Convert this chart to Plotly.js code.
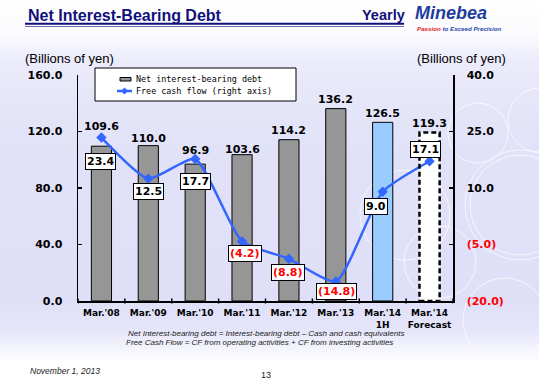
<!DOCTYPE html>
<html><head><meta charset="utf-8">
<script src="https://cdn.plot.ly/plotly-3.0.1.min.js"></script>
<style>
html,body{margin:0;padding:0;}
body{width:539px;height:380px;overflow:hidden;background:linear-gradient(to bottom,#ffffff 0px,#fbfbfe 36px,#ebebfb 60px,#e1e1f8 150px,#dfdff8 300px,#e5e5fa 330px,#ffffff 362px,#ffffff 380px);}
#chart{width:539px;height:380px;}
</style></head><body><div id="chart"></div>
<script>
// ---- data ----
const categories = ["Mar.'08","Mar.'09","Mar.'10","Mar.'11","Mar.'12","Mar.'13","Mar.'14<br>1H","Mar.'14<br>Forecast"];
const debt = [109.6,110.0,96.9,103.6,114.2,136.2,126.5,119.3];
const fcf = [23.4,12.5,17.7,-4.2,-8.8,-14.8,9.0,17.1];
const leftTicks = [0,40,80,120,160];
const rightTicks = [-20,-5,10,25,40];
const debtName = "Net interest-bearing debt";
const fcfName = "Free cash flow (right axis)";

// ---- layout helpers ----
const L=78,R=453,T=75,B=301;
const px = x => (x-L)/(R-L);
const py = y => (B-y)/(B-T);
const fmt = v => v<0 ? "("+Math.abs(v).toFixed(1)+")" : v.toFixed(1);
const RED = "#ff0000";
const barShift = [20,7,14,5,9,9,9,9];
const lblShift = [[-1,-24],[0,-13],[0,-22],[3,-12.5],[-1,-14],[1,-10],[-7,-15],[-4,12]];

const barColors = debt.map((v,i)=> i===6 ? "#99ccff" : (i===7 ? "#ffffff" : "#969696"));
const barLineW = debt.map((v,i)=> i===7 ? 0 : 1);
const idx = categories.map((c,i)=>i);

const traces = [
  {type:"bar", name:debtName, x:idx, y:debt, width:0.43,
   marker:{color:barColors, line:{color:"#000", width:barLineW}}, hoverinfo:"skip"},
  {type:"scatter", mode:"lines+markers", name:fcfName, x:idx, y:fcf, yaxis:"y2",
   line:{color:"#3366ff", width:2.5, shape:"spline", smoothing:0.55},
   marker:{symbol:"diamond", size:8, color:"#3366ff"}, hoverinfo:"skip"}
];

const ann = [];
const tickFont = {family:"DejaVu Sans", size:11, color:"#000", weight:"bold"};
debt.forEach((v,i)=>ann.push({x:i, y:v, xref:"x", yref:"y", text:v.toFixed(1), showarrow:false,
  yanchor:"middle", yshift:barShift[i], font:{family:"DejaVu Sans", size:11, color:"#000", weight:"bold"}}));
fcf.forEach((v,i)=>ann.push({x:i, y:v, xref:"x", yref:"y2", text:fmt(v), showarrow:false,
  xshift:lblShift[i][0], yshift:lblShift[i][1], bgcolor:"#ffffff", bordercolor:"#000", borderwidth:1, borderpad:1,
  font:{family:"DejaVu Sans", size:11, color:v<0?RED:"#000", weight:"bold"}}));

function txt(x,y,text,font,xanchor){ ann.push({xref:"paper", yref:"paper", x:px(x), y:py(y), text:text, showarrow:false,
  xanchor:xanchor||"left", yanchor:"middle", font:font}); }

txt(26,16,"Net Interest-Bearing Debt",{family:"Liberation Sans", size:16, color:"#10107a", weight:"bold"});
txt(360,15,"Yearly",{family:"Liberation Sans", size:14.5, color:"#10107a", weight:"bold"});
txt(413,12.6,"Minebea",{family:"Liberation Sans", size:18, color:"#1f3d9e", weight:"bold", style:"italic"});
txt(415,28.4,"<span style='color:#e02020'>Passion</span> to Exceed Precision",{family:"Liberation Sans", size:6.2, color:"#2a4aa8", weight:"bold", style:"italic"});
txt(23,59,"(Billions of yen)",{family:"Liberation Sans", size:13, color:"#000"});
txt(415,59,"(Billions of yen)",{family:"Liberation Sans", size:13, color:"#000"});
txt(134,79,debtName,{family:"DejaVu Sans Mono", size:8.4, color:"#000"});
txt(134,91,fcfName,{family:"DejaVu Sans Mono", size:8.4, color:"#000"});
txt(266,333,"Net Interest-bearing debt = Interest-bearing debt \u2013 Cash and cash equivalents",{family:"Liberation Sans", size:8, color:"#222", style:"italic"},"center");
txt(259.5,342,"Free Cash Flow = CF from operating activities + CF from investing activities",{family:"Liberation Sans", size:8, color:"#222", style:"italic"},"center");
txt(28,371,"November 1, 2013",{family:"Liberation Sans", size:8.5, color:"#222", style:"italic"});
txt(266,375,"13",{family:"Liberation Sans", size:9, color:"#222"},"center");

const shapes = [];
// faint decorative circles
[[478,133,30],[520,205,55],[520,205,50],[540,120,32],[505,320,42],[440,262,36],[405,215,45]].forEach(c=>{
  shapes.push({type:"circle", xref:"paper", yref:"paper", layer:"below",
    x0:px(c[0]-c[2]), x1:px(c[0]+c[2]), y0:py(c[1]+c[2]), y1:py(c[1]-c[2]),
    line:{color:"rgba(255,255,255,0.7)", width:1}});
});
// header underline
shapes.push({type:"line", xref:"paper", yref:"paper", x0:px(25), x1:px(404), y0:py(23.8), y1:py(23.8), line:{color:"#10107a", width:2}});
shapes.push({type:"line", xref:"paper", yref:"paper", x0:px(25), x1:px(404), y0:py(26.5), y1:py(26.5), line:{color:"#7070b8", width:1}});
// forecast bar dashed outline
shapes.push({type:"rect", xref:"x", yref:"y", x0:7-0.215, x1:7+0.215, y0:0, y1:debt[7],
  line:{color:"#000", width:2.5, dash:"5px,3px"}});
// legend box
shapes.push({type:"rect", xref:"paper", yref:"paper", x0:px(95), x1:px(296), y0:py(101), y1:py(68), fillcolor:"#fff", line:{color:"#000", width:1}});
shapes.push({type:"rect", xref:"paper", yref:"paper", x0:px(120), x1:px(131), y0:py(81), y1:py(77.5), fillcolor:"#969696", line:{color:"#000", width:1}});
shapes.push({type:"line", xref:"paper", yref:"paper", x0:px(117), x1:px(132), y0:py(91), y1:py(91), line:{color:"#3366ff", width:2.5}});
shapes.push({type:"path", xref:"paper", yref:"paper",
  path:`M ${px(124.5)},${py(87.5)} L ${px(128)},${py(91)} L ${px(124.5)},${py(94.5)} L ${px(121)},${py(91)} Z`,
  fillcolor:"#3366ff", line:{color:"#3366ff", width:0}});
// category boundary ticks on x axis
for(let i=0;i<=8;i++){
  shapes.push({type:"line", xref:"x", yref:"paper", x0:i-0.5, x1:i-0.5, y0:py(B+2.5), y1:py(B-2.5), line:{color:"#000", width:1.5}});
}

const layout = {
  width:539, height:380, margin:{l:L, r:539-R, t:T, b:380-B},
  paper_bgcolor:"rgba(0,0,0,0)", plot_bgcolor:"rgba(0,0,0,0)",
  showlegend:false,
  xaxis:{type:"linear", range:[-0.5,7.5], tickvals:idx, ticktext:categories, showline:true, linecolor:"#000", linewidth:1.5,
    ticks:"", showgrid:false, zeroline:false, fixedrange:true, ticklabelstandoff:3,
    tickfont:{family:"DejaVu Sans", size:9, color:"#000", weight:"bold"}},
  yaxis:{range:[0,160], tickvals:leftTicks, ticktext:leftTicks.map(fmt), showline:true, linecolor:"#000", linewidth:1.5,
    ticks:"inside", ticklen:4, tickcolor:"#000", tickwidth:1.5, showgrid:false, zeroline:false, ticklabelstandoff:12,
    tickfont:tickFont},
  yaxis2:{range:[-20,40], overlaying:"y", side:"right", tickvals:rightTicks,
    ticktext:rightTicks.map(v=> v<0 ? "<span style='color:"+RED+"'>"+fmt(v)+"</span>" : fmt(v)),
    showline:true, linecolor:"#000", linewidth:1.5, ticks:"inside", ticklen:4, tickcolor:"#000", tickwidth:1.5,
    showgrid:false, zeroline:false, ticklabelstandoff:10, tickfont:tickFont},
  annotations:ann, shapes:shapes
};
Plotly.newPlot("chart", traces, layout, {staticPlot:true, displayModeBar:false});
</script></body></html>
